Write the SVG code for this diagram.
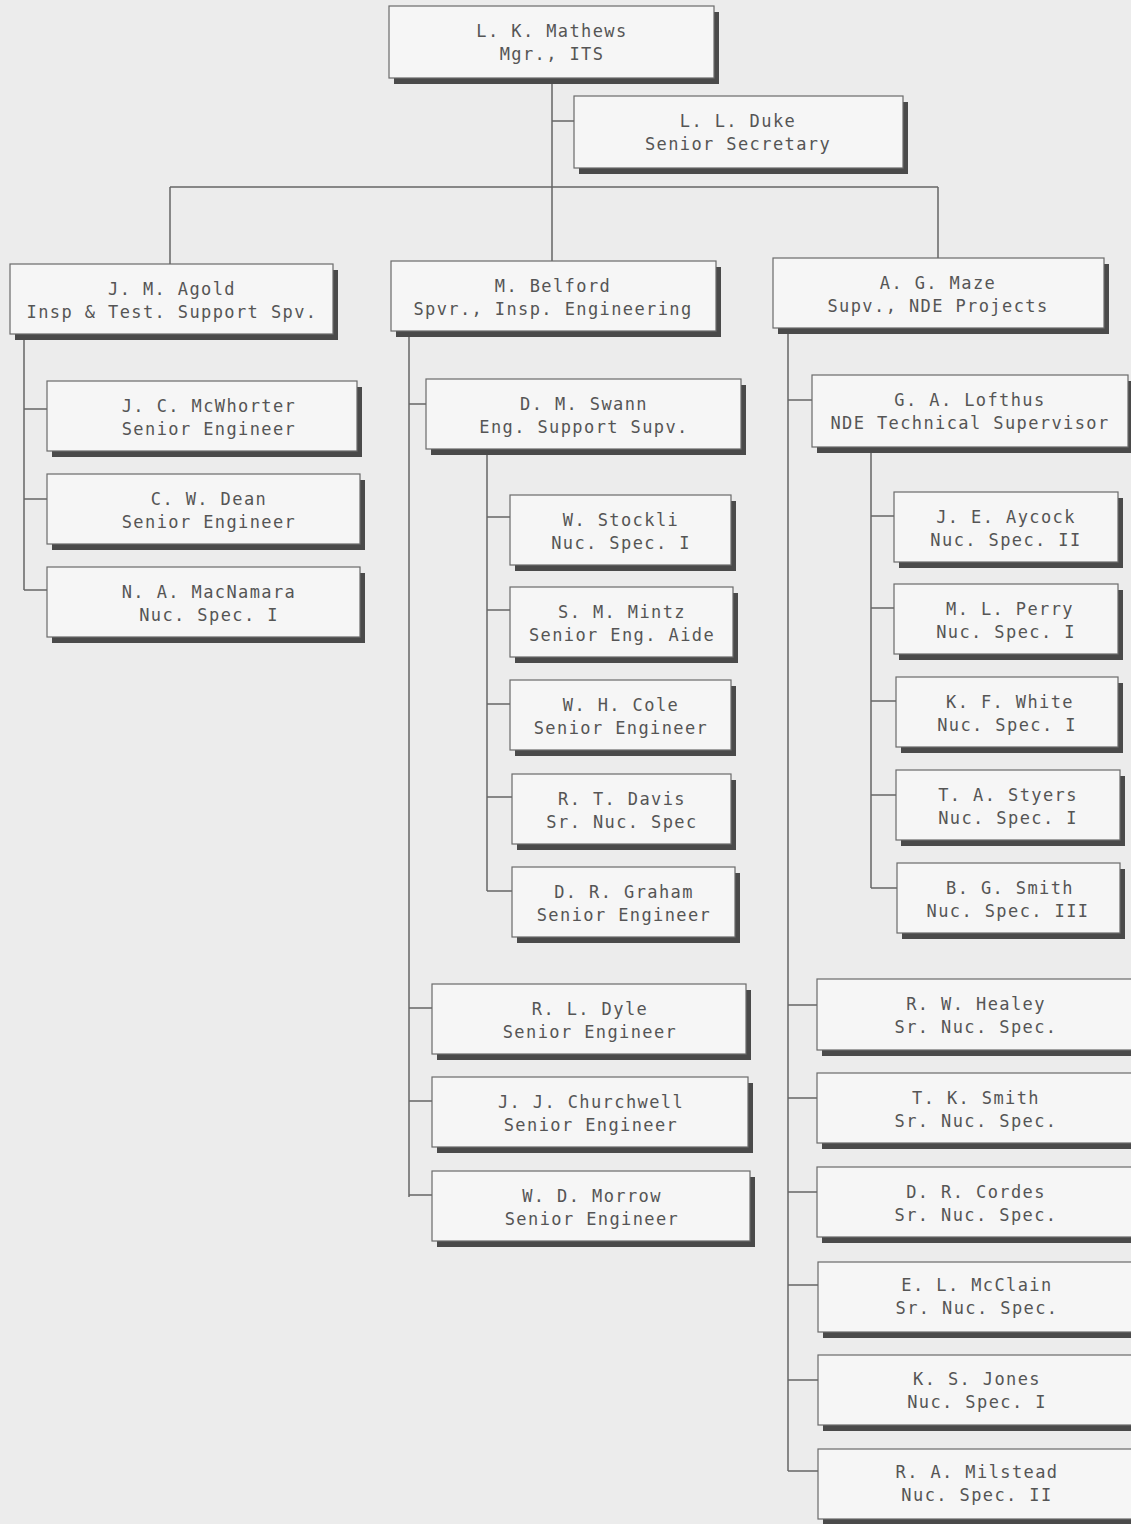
<svg xmlns="http://www.w3.org/2000/svg" width="1131" height="1524" viewBox="0 0 1131 1524">
<style>
.bg{fill:#ececec}
.sh{fill:#4a4a4a}
.bx{fill:#f6f6f6;stroke:#6a6a6a;stroke-width:1.2}
.t{font-family:"DejaVu Sans Mono","Liberation Mono",monospace;font-size:17px;fill:#555;text-anchor:middle;letter-spacing:1.4px}
.c{stroke:#666;stroke-width:1.5;fill:none}
</style>
<rect class="bg" x="0" y="0" width="1131" height="1524"/>
<g id="connectors">
<path class="c" d="M552,78V261M552,121H574M170,187H938M170,187V264M938,187V258"/>
<path class="c" d="M24,334V590M24,409H47M24,499H47M24,590H47"/>
<path class="c" d="M409,331V1197M409,404H426M409,1008H432M409,1101H432M409,1195H432"/>
<path class="c" d="M487,449V891M487,517H510M487,610H510M487,704H510M487,797H512M487,891H512"/>
<path class="c" d="M788,328V1471M788,400H812M788,1005H817M788,1098H817M788,1192H817M788,1285H818M788,1380H818M788,1471H818"/>
<path class="c" d="M871,447V888M871,516H894M871,608H894M871,701H896M871,795H896M871,888H897"/>
</g>
<g id="n-mathews"><rect class="sh" x="394" y="12" width="325" height="72"/><rect class="bx" x="389" y="6" width="325" height="72"/><text class="t" x="552" y="37">L. K. Mathews</text><text class="t" x="552" y="60">Mgr., ITS</text></g>
<g id="n-duke"><rect class="sh" x="579" y="102" width="329" height="72"/><rect class="bx" x="574" y="96" width="329" height="72"/><text class="t" x="738" y="127">L. L. Duke</text><text class="t" x="738" y="150">Senior Secretary</text></g>
<g id="n-agold"><rect class="sh" x="15" y="270" width="323" height="70"/><rect class="bx" x="10" y="264" width="323" height="70"/><text class="t" x="172" y="295">J. M. Agold</text><text class="t" x="172" y="318">Insp &amp; Test. Support Spv.</text></g>
<g id="n-belford"><rect class="sh" x="396" y="267" width="325" height="70"/><rect class="bx" x="391" y="261" width="325" height="70"/><text class="t" x="553" y="292">M. Belford</text><text class="t" x="553" y="315">Spvr., Insp. Engineering</text></g>
<g id="n-maze"><rect class="sh" x="778" y="264" width="331" height="70"/><rect class="bx" x="773" y="258" width="331" height="70"/><text class="t" x="938" y="289">A. G. Maze</text><text class="t" x="938" y="312">Supv., NDE Projects</text></g>
<g id="n-mcwhorter"><rect class="sh" x="52" y="387" width="310" height="70"/><rect class="bx" x="47" y="381" width="310" height="70"/><text class="t" x="209" y="412">J. C. McWhorter</text><text class="t" x="209" y="435">Senior Engineer</text></g>
<g id="n-dean"><rect class="sh" x="52" y="480" width="313" height="70"/><rect class="bx" x="47" y="474" width="313" height="70"/><text class="t" x="209" y="505">C. W. Dean</text><text class="t" x="209" y="528">Senior Engineer</text></g>
<g id="n-macnamara"><rect class="sh" x="52" y="573" width="313" height="70"/><rect class="bx" x="47" y="567" width="313" height="70"/><text class="t" x="209" y="598">N. A. MacNamara</text><text class="t" x="209" y="621">Nuc. Spec. I</text></g>
<g id="n-swann"><rect class="sh" x="431" y="385" width="315" height="70"/><rect class="bx" x="426" y="379" width="315" height="70"/><text class="t" x="584" y="410">D. M. Swann</text><text class="t" x="584" y="433">Eng. Support Supv.</text></g>
<g id="n-stockli"><rect class="sh" x="515" y="501" width="221" height="70"/><rect class="bx" x="510" y="495" width="221" height="70"/><text class="t" x="621" y="526">W. Stockli</text><text class="t" x="621" y="549">Nuc. Spec. I</text></g>
<g id="n-mintz"><rect class="sh" x="515" y="593" width="223" height="70"/><rect class="bx" x="510" y="587" width="223" height="70"/><text class="t" x="622" y="618">S. M. Mintz</text><text class="t" x="622" y="641">Senior Eng. Aide</text></g>
<g id="n-cole"><rect class="sh" x="515" y="686" width="221" height="70"/><rect class="bx" x="510" y="680" width="221" height="70"/><text class="t" x="621" y="711">W. H. Cole</text><text class="t" x="621" y="734">Senior Engineer</text></g>
<g id="n-davis"><rect class="sh" x="517" y="780" width="219" height="70"/><rect class="bx" x="512" y="774" width="219" height="70"/><text class="t" x="622" y="805">R. T. Davis</text><text class="t" x="622" y="828">Sr. Nuc. Spec</text></g>
<g id="n-graham"><rect class="sh" x="517" y="873" width="223" height="70"/><rect class="bx" x="512" y="867" width="223" height="70"/><text class="t" x="624" y="898">D. R. Graham</text><text class="t" x="624" y="921">Senior Engineer</text></g>
<g id="n-dyle"><rect class="sh" x="437" y="990" width="314" height="70"/><rect class="bx" x="432" y="984" width="314" height="70"/><text class="t" x="590" y="1015">R. L. Dyle</text><text class="t" x="590" y="1038">Senior Engineer</text></g>
<g id="n-churchwell"><rect class="sh" x="437" y="1083" width="316" height="70"/><rect class="bx" x="432" y="1077" width="316" height="70"/><text class="t" x="591" y="1108">J. J. Churchwell</text><text class="t" x="591" y="1131">Senior Engineer</text></g>
<g id="n-morrow"><rect class="sh" x="437" y="1177" width="318" height="70"/><rect class="bx" x="432" y="1171" width="318" height="70"/><text class="t" x="592" y="1202">W. D. Morrow</text><text class="t" x="592" y="1225">Senior Engineer</text></g>
<g id="n-lofthus"><rect class="sh" x="817" y="381" width="316" height="72"/><rect class="bx" x="812" y="375" width="316" height="72"/><text class="t" x="970" y="406">G. A. Lofthus</text><text class="t" x="970" y="429">NDE Technical Supervisor</text></g>
<g id="n-aycock"><rect class="sh" x="899" y="498" width="224" height="70"/><rect class="bx" x="894" y="492" width="224" height="70"/><text class="t" x="1006" y="523">J. E. Aycock</text><text class="t" x="1006" y="546">Nuc. Spec. II</text></g>
<g id="n-perry"><rect class="sh" x="899" y="590" width="224" height="70"/><rect class="bx" x="894" y="584" width="224" height="70"/><text class="t" x="1010" y="615">M. L. Perry</text><text class="t" x="1006" y="638">Nuc. Spec. I</text></g>
<g id="n-white"><rect class="sh" x="901" y="683" width="222" height="70"/><rect class="bx" x="896" y="677" width="222" height="70"/><text class="t" x="1010" y="708">K. F. White</text><text class="t" x="1007" y="731">Nuc. Spec. I</text></g>
<g id="n-styers"><rect class="sh" x="901" y="776" width="224" height="70"/><rect class="bx" x="896" y="770" width="224" height="70"/><text class="t" x="1008" y="801">T. A. Styers</text><text class="t" x="1008" y="824">Nuc. Spec. I</text></g>
<g id="n-bgsmith"><rect class="sh" x="902" y="869" width="223" height="70"/><rect class="bx" x="897" y="863" width="223" height="70"/><text class="t" x="1010" y="894">B. G. Smith</text><text class="t" x="1008" y="917">Nuc. Spec. III</text></g>
<g id="n-healey"><rect class="sh" x="822" y="985" width="320" height="71"/><rect class="bx" x="817" y="979" width="320" height="71"/><text class="t" x="976" y="1010">R. W. Healey</text><text class="t" x="976" y="1033">Sr. Nuc. Spec.</text></g>
<g id="n-tksmith"><rect class="sh" x="822" y="1079" width="320" height="70"/><rect class="bx" x="817" y="1073" width="320" height="70"/><text class="t" x="976" y="1104">T. K. Smith</text><text class="t" x="976" y="1127">Sr. Nuc. Spec.</text></g>
<g id="n-cordes"><rect class="sh" x="822" y="1173" width="320" height="70"/><rect class="bx" x="817" y="1167" width="320" height="70"/><text class="t" x="976" y="1198">D. R. Cordes</text><text class="t" x="976" y="1221">Sr. Nuc. Spec.</text></g>
<g id="n-mcclain"><rect class="sh" x="823" y="1268" width="320" height="70"/><rect class="bx" x="818" y="1262" width="320" height="70"/><text class="t" x="977" y="1291">E. L. McClain</text><text class="t" x="977" y="1314">Sr. Nuc. Spec.</text></g>
<g id="n-jones"><rect class="sh" x="823" y="1361" width="320" height="70"/><rect class="bx" x="818" y="1355" width="320" height="70"/><text class="t" x="977" y="1385">K. S. Jones</text><text class="t" x="977" y="1408">Nuc. Spec. I</text></g>
<g id="n-milstead"><rect class="sh" x="823" y="1455" width="320" height="70"/><rect class="bx" x="818" y="1449" width="320" height="70"/><text class="t" x="977" y="1478">R. A. Milstead</text><text class="t" x="977" y="1501">Nuc. Spec. II</text></g>
</svg>
